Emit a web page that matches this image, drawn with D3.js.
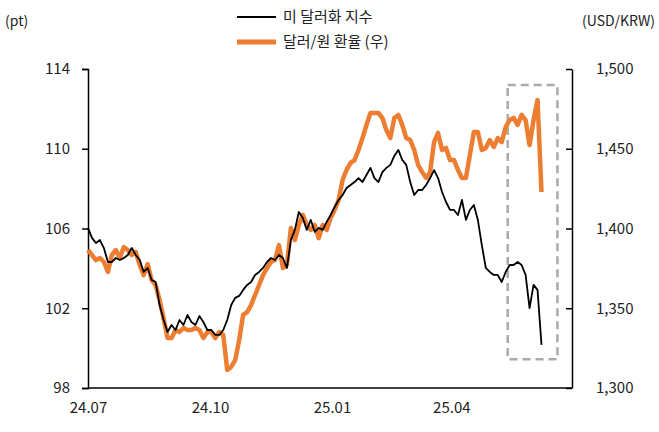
<!DOCTYPE html><html><head><meta charset="utf-8"><script src="https://cdn.jsdelivr.net/npm/d3@7"></script>
<style>body{margin:0;background:#fff}text{font-family:"Noto Sans CJK KR","Noto Sans",sans-serif}</style></head><body>
<svg id="c" width="659" height="432"></svg>
<script>
const startDate = "2024-07-01";
const stepDays = 3;
const dxy = [106.03,105.53,105.27,105.42,105.02,104.32,104.32,104.52,104.42,104.52,104.67,105.02,104.67,104.42,103.82,104.02,103.42,103.32,102.16,101.41,100.81,101.16,100.91,101.41,101.16,101.66,101.31,101.16,101.61,101.31,100.91,100.91,100.66,100.66,100.91,101.41,102.16,102.52,102.62,102.92,103.17,103.32,103.67,103.82,104.02,104.32,104.52,104.42,104.67,104.52,104.02,105.42,105.93,106.83,106.53,105.93,106.43,105.83,106.03,105.93,106.33,106.68,107.08,107.43,107.68,108.03,108.18,108.33,108.53,108.33,108.68,109.04,108.53,108.33,108.83,109.04,109.19,109.64,109.94,109.44,109.19,108.33,107.68,107.93,107.93,108.18,108.53,108.93,108.53,107.83,107.33,106.93,106.93,106.68,107.43,106.43,106.93,107.18,106.43,105.17,104.02,103.82,103.67,103.67,103.32,103.82,104.17,104.17,104.32,104.17,103.67,102.01,103.17,102.92,100.16];
const krw = [1386.5,1383.4,1380.2,1381.5,1379.0,1372.7,1383.4,1386.5,1381.5,1388.4,1386.5,1383.4,1385.3,1377.1,1370.8,1377.7,1367.7,1364.5,1355.1,1343.8,1331.3,1331.3,1336.3,1335.1,1337.6,1336.3,1336.3,1337.6,1336.3,1331.3,1335.1,1335.1,1331.3,1335.1,1333.2,1311.3,1313.2,1317.5,1330.0,1345.8,1347.6,1352.0,1358.3,1364.5,1370.8,1375.2,1379.0,1380.2,1389.6,1375.2,1377.1,1400.3,1392.8,1402.2,1408.5,1402.2,1399.1,1402.2,1394.0,1402.2,1399.1,1406.6,1411.6,1417.9,1430.4,1436.7,1441.1,1442.9,1449.2,1456.7,1464.9,1472.4,1472.4,1472.4,1469.3,1461.8,1456.7,1469.3,1471.2,1464.9,1456.7,1455.5,1449.2,1439.8,1435.4,1431.7,1435.4,1454.2,1459.9,1449.2,1450.5,1442.9,1442.9,1436.7,1431.7,1431.7,1446.1,1460.5,1460.5,1449.2,1450.5,1455.5,1451.1,1456.7,1454.2,1463.6,1468.0,1469.3,1464.9,1471.2,1468.0,1452.3,1468.0,1480.6,1422.9];
const leftTicks = [98,102,106,110,114];
const rightTicks = [1300,1350,1400,1450,1500];
const xTicks = ["2024-07-01","2024-10-01","2025-01-01","2025-04-01"];
const xTickLabels = ["24.07","24.10","25.01","25.04"];
const legendLabels = ["미 달러화 지수","달러/원 환율 (우)"];
const boxFrom = 105, boxTo = 117;

const svg = d3.select("#c");
const L=88,R=572,T=69,B=388;
const p = d3.timeParse("%Y-%m-%d");
const s0 = p(startDate);
const dateAt = i => d3.timeDay.offset(s0, i*stepDays);
const x = d3.scaleTime().domain([p("2024-07-01"),p("2025-07-01")]).range([L,R]);
const yl = d3.scaleLinear().domain([98,114]).range([B,T]);
const yr = d3.scaleLinear().domain([1300,1500]).range([B,T]);
const fs = "15px";

const ga = svg.append("g").attr("transform",`translate(${L},0)`).call(d3.axisLeft(yl).tickValues(leftTicks).tickSize(6).tickPadding(12));
const gr = svg.append("g").attr("transform",`translate(${R},0)`).call(d3.axisRight(yr).tickValues(rightTicks).tickFormat(d3.format(",")).tickSizeInner(-6).tickSizeOuter(0).tickPadding(24));
const gb = svg.append("g").attr("transform",`translate(0,${B})`).call(d3.axisBottom(x).tickValues(xTicks.map(p)).tickFormat((d,i)=>xTickLabels[i]).tickSize(0).tickPadding(14));
[ga,gr,gb].forEach(g=>{g.selectAll("text").attr("font-size",fs).attr("fill","#222").style("font-family","'Noto Sans CJK KR',sans-serif");g.selectAll("line,path").attr("stroke","#000").attr("stroke-width",1.5);});
gb.select(".domain").attr("d",`M${L},0H${R}`);

svg.append("rect").attr("x",x(dateAt(boxFrom))+2).attr("y",yr(1490)).attr("width",x(dateAt(boxTo))-x(dateAt(boxFrom))+2).attr("height",yr(1318)-yr(1490))
 .attr("fill","none").attr("stroke","#aaa").attr("stroke-width",2.5).attr("stroke-dasharray","8,5");

svg.append("path").datum(krw).attr("fill","none").attr("stroke","#ED7D31").attr("stroke-width",4.5).attr("stroke-linejoin","round")
 .attr("d",d3.line().x((d,i)=>x(dateAt(i))).y(d=>yr(d)));
svg.append("path").datum(dxy).attr("fill","none").attr("stroke","#000").attr("stroke-width",1.8).attr("stroke-linejoin","round")
 .attr("d",d3.line().x((d,i)=>x(dateAt(i))).y(d=>yl(d)));

svg.append("text").attr("x",5).attr("y",26).attr("font-size","14px").attr("fill","#222").text("(pt)");
svg.append("text").attr("x",655).attr("y",26).attr("text-anchor","end").attr("font-size","14px").attr("fill","#222").text("(USD/KRW)");
const lg = svg.append("g");
lg.append("line").attr("x1",237).attr("x2",276).attr("y1",17).attr("y2",17).attr("stroke","#000").attr("stroke-width",2);
lg.append("line").attr("x1",237).attr("x2",276).attr("y1",42).attr("y2",42).attr("stroke","#ED7D31").attr("stroke-width",5);
lg.append("text").attr("x",283).attr("y",22).attr("font-size",fs).attr("fill","#222").text(legendLabels[0]);
lg.append("text").attr("x",283).attr("y",47).attr("font-size",fs).attr("fill","#222").text(legendLabels[1]);
</script></body></html>
